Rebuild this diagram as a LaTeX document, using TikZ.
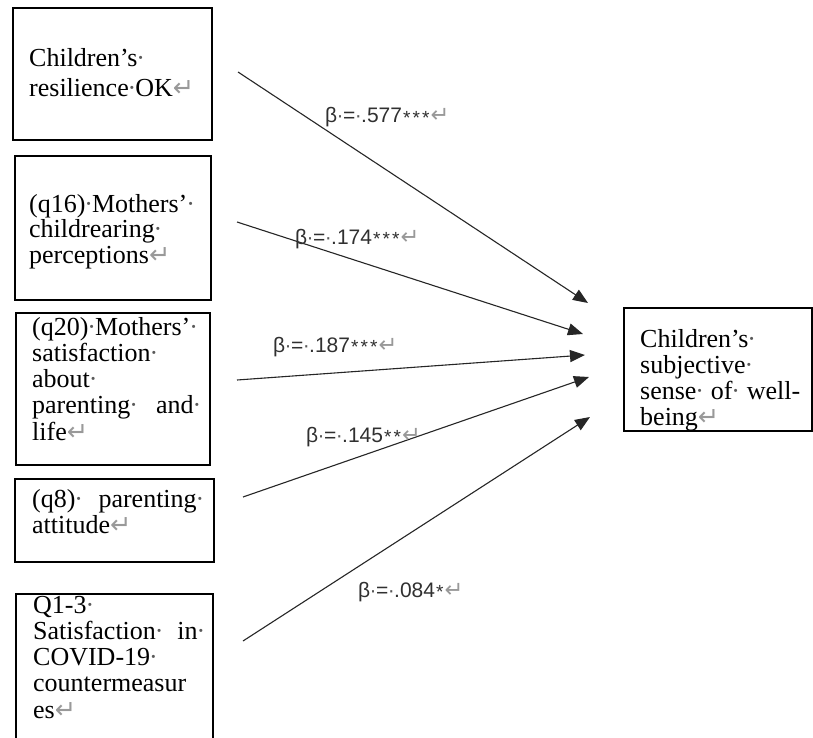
\documentclass[tikz,border=0pt]{standalone}
\usepackage{fontspec}
\usepackage{graphicx}
\setmainfont{Liberation Serif}
\newfontfamily\labfont{Liberation Sans}
\newfontfamily\markfont{DejaVu Sans}
\usetikzlibrary{arrows.meta}
\definecolor{markgray}{gray}{0.6}
\definecolor{dotgray}{gray}{0.35}
\definecolor{labgray}{HTML}{303030}
\newcommand{\sd}{{\color{dotgray}\makebox[0.25em]{·}}}
\newcommand{\ld}{{\color{dotgray}\makebox[0.278em]{·}}}
\newcommand{\parmark}{{\color{markgray}\markfont\fontsize{17}{26}\selectfont\scalebox{1.5}{↵}}}
\newcommand{\lparmark}{{\color{markgray}\markfont\fontsize{15}{21}\selectfont\scalebox{1.5}{↵}}}
\newcommand{\sg}{\makebox[9.5pt]{\fontsize{19}{19}\selectfont\raisebox{-1.5pt}{*}}}
\tikzset{
  box/.style={draw, line width=1.9pt, inner sep=0pt, anchor=north west},
  boxtext/.style={anchor=base west, inner sep=0pt, text width=#1, align=left,
    font=\fontsize{26}{26.3}\selectfont},
  betalab/.style={anchor=base west, inner sep=0pt,
    font=\labfont\fontsize{21}{21}\selectfont, text=labgray},
  conn/.style={line width=1.1pt, draw=black!85, -{Triangle[length=15pt,width=12pt]}},
}
\begin{document}
\begin{tikzpicture}[x=1pt,y=-1pt]
\clip (0,0) rectangle (813,738);
\fill[white] (0,0) rectangle (813,738);
% boxes
\node[box, minimum width=199pt, minimum height=132pt] (b1) at (12,7) {};
\node[box, minimum width=196pt, minimum height=144pt] (b2) at (14,155) {};
\node[box, minimum width=194pt, minimum height=152pt] (b3) at (15,312) {};
\node[box, minimum width=199pt, minimum height=83pt] (b4) at (14,478) {};
\node[box, minimum width=197pt, minimum height=167pt] (b5) at (15,593) {};
\node[box, minimum width=188pt, minimum height=123pt] (bt) at (623,307) {};
% box texts
\node[boxtext=180pt, font=\fontsize{26}{30}\selectfont] (tx1) at (29,67)
  {Children’s\sd\\resilience\sd OK\parmark};
\node[boxtext=175pt, font=\fontsize{26}{25.7}\selectfont] (tx2) at (29,212)
  {(q16)\sd Mothers’\sd\\childrearing\sd\\perceptions\parmark};
\node[boxtext=168pt] (tx3) at (32,335)
  {(q20)\sd Mothers’\sd\\satisfaction\sd\\about\sd\\parenting\sd\hfill and\sd\\life\parmark};
\node[boxtext=171pt] (tx4) at (32,507)
  {(q8)\sd\hfill parenting\sd\\attitude\parmark};
\node[boxtext=171pt] (tx5) at (33,613)
  {Q1-3\sd\\Satisfaction\sd\hfill in\sd\\COVID-19\sd\\countermeasur\\es\parmark};
\node[boxtext=160pt] (txt) at (640,347)
  {Children’s\sd\\subjective\sd\\sense\sd\hfill of\sd\hfill well-\\being\parmark};
% connector end points
\coordinate (s1) at (238,72);  \coordinate (e1) at (588,303);
\coordinate (s2) at (237,222); \coordinate (e2) at (583,334);
\coordinate (s3) at (237,380); \coordinate (e3) at (585,355);
\coordinate (s4) at (243,497); \coordinate (e4) at (589,377);
\coordinate (s5) at (243,641); \coordinate (e5) at (590,417);
\draw[conn] (s1) -- (e1);
\draw[conn] (s2) -- (e2);
\draw[conn] (s3) -- (e3);
\draw[conn] (s4) -- (e4);
\draw[conn] (s5) -- (e5);
% labels
\node[betalab] (l1) at (325,123) {β\ld=\ld.577\sg\sg\sg\lparmark};
\node[betalab] (l2) at (295,244) {β\ld=\ld.174\sg\sg\sg\lparmark};
\node[betalab] (l3) at (273,352) {β\ld=\ld.187\sg\sg\sg\lparmark};
\node[betalab] (l4) at (306,442) {β\ld=\ld.145\sg\sg\lparmark};
\node[betalab] (l5) at (358,597) {β\ld=\ld.084\sg\lparmark};
\end{tikzpicture}
\end{document}
